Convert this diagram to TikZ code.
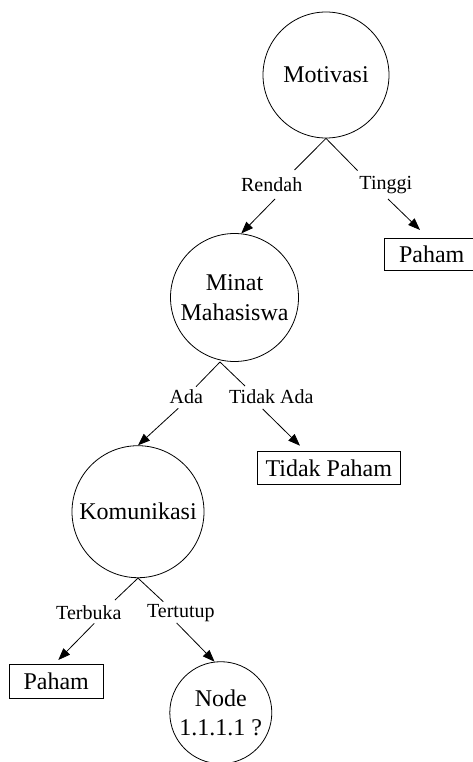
\documentclass[tikz,border=0pt]{standalone}
\usepackage{fontspec}
\setmainfont{Liberation Serif}
\usetikzlibrary{arrows.meta}
\tikzset{
  conn/.style={line width=0.8pt},
  arr/.style={line width=0.8pt,-{Triangle[length=12pt,width=9pt]}},
  decision/.style={circle,draw,line width=0.8pt,inner sep=0pt,align=center,font=\fontsize{24}{29.5}\selectfont},
  leaf/.style={rectangle,draw,line width=0.8pt,inner sep=0pt,font=\fontsize{24}{29.5}\selectfont},
  lbl/.style={inner sep=0pt,font=\fontsize{20}{24}\selectfont}
}
\begin{document}
\begin{tikzpicture}[x=1pt,y=-1pt]
\useasboundingbox (0,0) rectangle (473,762);
\clip (0,0) rectangle (473,762);
% decision nodes
\node[decision,minimum size=126pt] (mot) at (326,75) {Motivasi};
\node[decision,minimum size=128pt] (minat) at (234.5,297.5) {Minat\\Mahasiswa};
\node[decision,minimum size=132pt] (kom) at (138,511.7) {Komunikasi};
\node[decision,minimum size=102pt] (nd) at (220.8,712.7) {Node\\1.1.1.1 ?};
% leaves
\node[leaf,minimum width=95pt,minimum height=32.4pt] (paham1) at (431.7,254.5) {Paham};
\node[leaf,minimum width=142.3pt,minimum height=32.3pt] (tpaham) at (328.8,467.8) {Tidak Paham};
\node[leaf,minimum width=94.3pt,minimum height=34.3pt] (paham2) at (56.2,681.2) {Paham};
% labels
\node[lbl] (rendah) at (271.7,185) {Rendah};
\node[lbl] (tinggi) at (385.8,185) {Tinggi};
\node[lbl] (ada) at (186.3,396.7) {Ada};
\node[lbl] (tidakada) at (271.3,397) {Tidak Ada};
\node[lbl] (terbuka) at (88.8,613) {Terbuka};
\node[lbl] (tertutup) at (180.8,613) {Tertutup};
% helper coordinates
\coordinate (mApex) at (220,362);
\coordinate (rA) at (294.5,170);
\coordinate (rB) at (275,199);
\coordinate (tA) at (357.5,170.5);
\coordinate (tB) at (388,199);
\coordinate (tTip) at (420,230);
\coordinate (aA) at (196,386.7);
\coordinate (aB) at (178.3,408.3);
\coordinate (taA) at (245,386);
\coordinate (taB) at (262.7,409);
\coordinate (taTip) at (300,445.7);
\coordinate (kA) at (115,600);
\coordinate (kB) at (94.3,623.3);
\coordinate (kTip) at (58.3,660);
\coordinate (ktA) at (163.3,601.7);
\coordinate (ktB) at (176.7,623);
% connectors
\draw[conn] (mot.south) -- (rA);
\draw[conn] (mot.south) -- (tA);
\draw[arr] (rB) -- (minat.84);
\draw[arr] (tB) -- (tTip);
\draw[conn] (mApex) -- (aA);
\draw[conn] (mApex) -- (taA);
\draw[arr] (aB) -- (kom.north);
\draw[arr] (taB) -- (taTip);
\draw[conn] (kom.south) -- (kA);
\draw[conn] (kom.south) -- (ktA);
\draw[arr] (kB) -- (kTip);
\draw[arr] (ktB) -- (nd.97);
\end{tikzpicture}
\end{document}
